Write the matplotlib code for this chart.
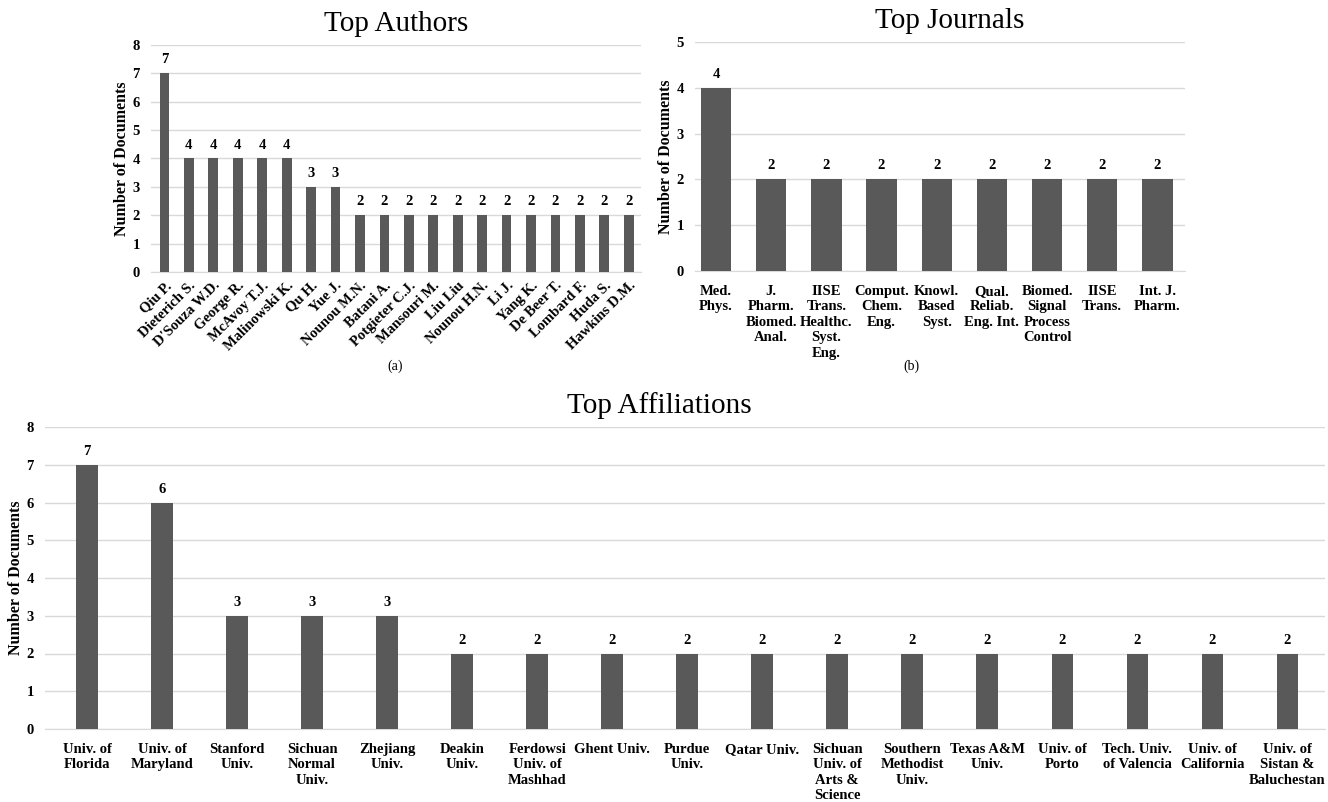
import numpy as np
import matplotlib
matplotlib.use("Agg")
import matplotlib.pyplot as plt

plt.rcParams['font.family'] = ['Liberation Serif', 'DejaVu Serif']
plt.rcParams['font.weight'] = 'bold'

authors = ["Qiu P.", "Dieterich S.", "D'Souza W.D.", "George R.", "McAvoy T.J.",
           "Malinowski K.", "Qu H.", "Yue J.", "Nounou M.N.", "Batani A.",
           "Potgieter C.J.", "Mansouri M.", "Liu Liu", "Nounou H.N.", "Li J.",
           "Yang K.", "De Beer T.", "Lombard F.", "Huda S.", "Hawkins D.M."]
author_docs = [7, 4, 4, 4, 4, 4, 3, 3, 2, 2, 2, 2, 2, 2, 2, 2, 2, 2, 2, 2]

journals = ["Med.\nPhys.", "J.\nPharm.\nBiomed.\nAnal.", "IISE\nTrans.\nHealthc.\nSyst.\nEng.",
            "Comput.\nChem.\nEng.", "Knowl.\nBased\nSyst.", "Qual.\nReliab.\nEng. Int.",
            "Biomed.\nSignal\nProcess\nControl", "IISE\nTrans.", "Int. J.\nPharm."]
journal_docs = [4, 2, 2, 2, 2, 2, 2, 2, 2]

affiliations = ["Univ. of\nFlorida", "Univ. of\nMaryland", "Stanford\nUniv.",
                "Sichuan\nNormal\nUniv.", "Zhejiang\nUniv.", "Deakin\nUniv.",
                "Ferdowsi\nUniv. of\nMashhad", "Ghent Univ.", "Purdue\nUniv.",
                "Qatar Univ.", "Sichuan\nUniv. of\nArts &\nScience",
                "Southern\nMethodist\nUniv.", "Texas A&M\nUniv.", "Univ. of\nPorto",
                "Tech. Univ.\nof Valencia", "Univ. of\nCalifornia",
                "Univ. of\nSistan &\nBaluchestan"]
affiliation_docs = [7, 6, 3, 3, 3, 2, 2, 2, 2, 2, 2, 2, 2, 2, 2, 2, 2]

BAR = '#595959'
GRID = '#d9d9d9'
W, H = 1328, 802


def px_axes(fig, left, right, top, bottom):
    return fig.add_axes([left / W, 1 - bottom / H, (right - left) / W, (bottom - top) / H])


def draw(ax, labels, values, width, ymax, title, xlim, title_x=0.5, rot=0):
    x = np.arange(len(values))
    bars = ax.bar(x, values, width=width, color=BAR, zorder=3)
    for b, v in zip(bars, values):
        ax.annotate(str(v), (b.get_x() + b.get_width() / 2, v), xytext=(0, 5),
                    textcoords='offset points', ha='center', va='bottom',
                    fontsize=10.5, fontweight='bold')
    ax.set_ylim(0, ymax)
    ax.set_xlim(*xlim)
    ax.set_yticks(range(0, ymax + 1))
    ax.yaxis.grid(True, color=GRID, linewidth=1, zorder=0)
    for s in ['top', 'right', 'left']:
        ax.spines[s].set_visible(False)
    ax.spines['bottom'].set_color(GRID)
    ax.tick_params(length=0, labelsize=10.5)
    ax.tick_params(axis='y', pad=8)
    ax.set_xticks(x)
    if rot:
        ax.set_xticklabels(labels, rotation=rot, ha='right', rotation_mode='anchor',
                           fontsize=10.5, fontweight='bold')
        ax.tick_params(axis='x', pad=5)
    else:
        ax.set_xticklabels(labels, fontsize=10.5, fontweight='bold', linespacing=1.25)
        ax.tick_params(axis='x', pad=10)
    for t in ax.get_yticklabels():
        t.set_fontweight('bold')
    ax.set_ylabel('Number of Documents', fontsize=11.5, fontweight='bold', labelpad=2)
    ax.set_title(title, fontsize=21, fontweight='normal', x=title_x, pad=10)


fig = plt.figure(figsize=(W / 100, H / 100), dpi=100)

ax1 = px_axes(fig, 151, 641, 45, 272)
draw(ax1, authors, author_docs, 0.4, 8, 'Top Authors', (-0.55, 19.5), rot=45)

ax2 = px_axes(fig, 695, 1185, 42, 271)
draw(ax2, journals, journal_docs, 0.55, 5, 'Top Journals', (-0.38, 8.5), title_x=0.52)

ax3 = px_axes(fig, 45, 1325, 427, 729)
draw(ax3, affiliations, affiliation_docs, 0.29, 8, 'Top Affiliations', (-0.56, 16.5),
     title_x=0.48)

fig.text(395 / W, 1 - 366 / H, '(a)', ha='center', va='center', fontsize=10, fontweight='normal')
fig.text(911 / W, 1 - 366 / H, '(b)', ha='center', va='center', fontsize=10, fontweight='normal')

fig.savefig('out.png', dpi=100, facecolor='white')
